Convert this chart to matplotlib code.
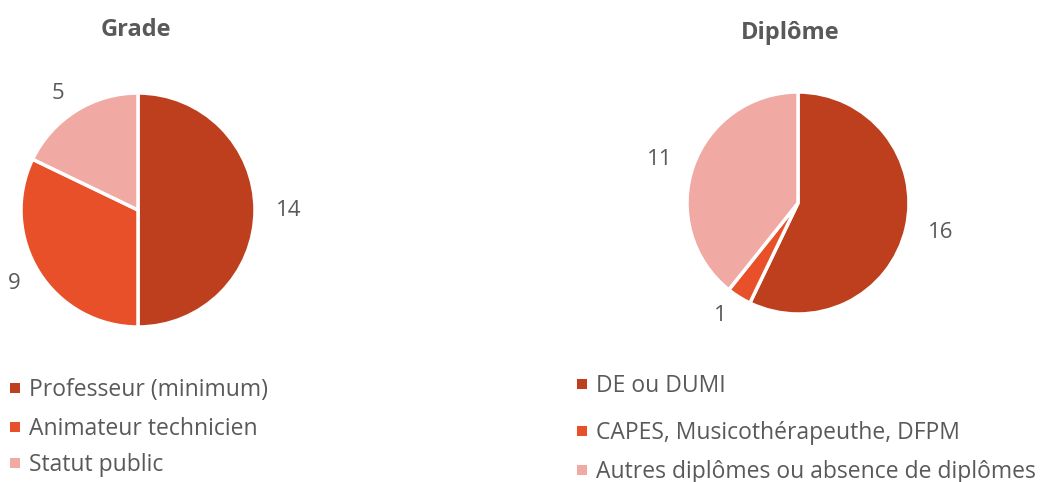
import matplotlib.pyplot as plt
from matplotlib.patches import Rectangle

plt.rcParams['font.family'] = ['Open Sans', 'DejaVu Sans']

grade_labels = ["Professeur (minimum)", "Animateur technicien", "Statut public"]
grade_values = [14, 9, 5]
dipl_labels = ["DE ou DUMI", "CAPES, Musicothérapeuthe, DFPM",
               "Autres diplômes ou absence de diplômes"]
dipl_values = [16, 1, 11]
colors = ["#BE3F1E", "#E8502A", "#F0A9A3"]
txt = "#595959"

W, H = 1040, 482
fig = plt.figure(figsize=(W / 100, H / 100), dpi=100)


def pie_axes(cx, cy, r):
    return fig.add_axes([(cx - r) / W, (H - cy - r) / H, 2 * r / W, 2 * r / H])


def legend(labels, x, ys):
    for lab, col, y in zip(labels, colors, ys):
        fig.patches.append(Rectangle((x / W, 1 - (y + 3) / H), 10 / W, 10 / H,
                                     transform=fig.transFigure, facecolor=col,
                                     edgecolor="none"))
        fig.text((x + 19) / W, 1 - y / H, lab, ha="left", va="center",
                 fontsize=16.5, color=txt)


ax1 = pie_axes(138, 210, 117)
w1, _ = ax1.pie(grade_values, colors=colors, startangle=90, counterclock=False,
                labels=[str(v) for v in grade_values], labeldistance=1.18,
                wedgeprops=dict(edgecolor="white", linewidth=2.5),
                textprops=dict(color=txt, fontsize=16))
ax1.set_xlim(-1, 1)
ax1.set_ylim(-1, 1)
fig.text(136 / W, 1 - 30 / H, "Grade", ha="center", va="center",
         fontsize=17, fontweight="bold", color=txt)

ax2 = pie_axes(798, 203, 111)
w2, _ = ax2.pie(dipl_values, colors=colors, startangle=90, counterclock=False,
                labels=[str(v) for v in dipl_values], labeldistance=1.2,
                wedgeprops=dict(edgecolor="white", linewidth=2.5),
                textprops=dict(color=txt, fontsize=16))
ax2.set_xlim(-1, 1)
ax2.set_ylim(-1, 1)
fig.text(790 / W, 1 - 33 / H, "Diplôme", ha="center", va="center",
         fontsize=17, fontweight="bold", color=txt)

legend(grade_labels, 10, [390, 429, 465])
legend(dipl_labels, 577, [386, 433, 472])

fig.savefig("out.png", dpi=100)
